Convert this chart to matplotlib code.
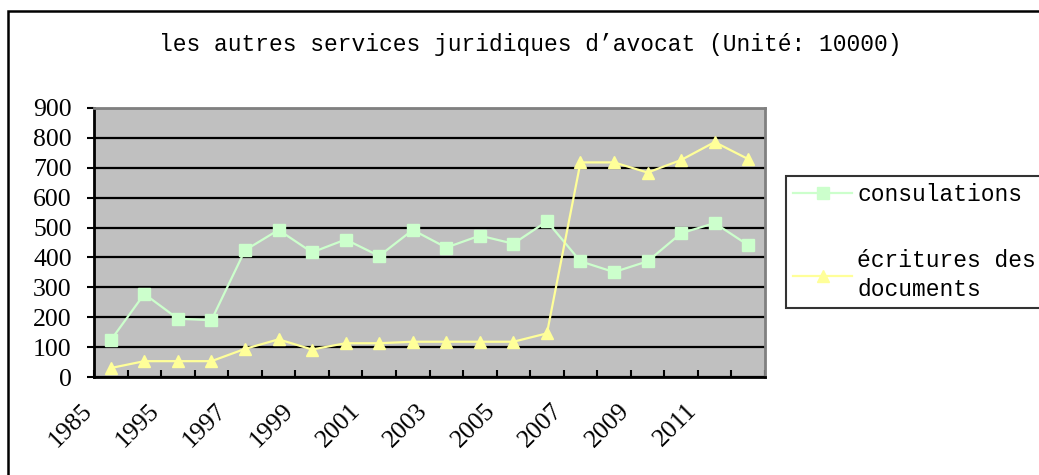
import matplotlib
matplotlib.use('Agg')
import matplotlib.pyplot as plt
import matplotlib.transforms as mtransforms
from matplotlib.patches import Rectangle

years = ['1985', '1990', '1995', '1996', '1997', '1998', '1999', '2000', '2001', '2002',
         '2003', '2004', '2005', '2006', '2007', '2008', '2009', '2010', '2011', '2012']
consultations = [123, 278, 195, 190, 424, 492, 417, 460, 405, 492,
                 433, 473, 446, 521, 387, 351, 387, 481, 515, 441]
ecritures = [30, 53, 53, 53, 94, 126, 92, 113, 113, 118,
             118, 118, 118, 146, 718, 718, 684, 726, 786, 729]

title = "les autres services juridiques d\u2019avocat (Unit\u00e9: 10000)"
mono = ['Liberation Mono', 'DejaVu Sans Mono']
serif = ['Liberation Serif', 'DejaVu Serif']

W, H = 1039, 475
fig = plt.figure(figsize=(W / 100, H / 100), dpi=100)

# outer chart border (right/bottom edges cut off like the reference)
fig.patches.append(Rectangle((8 / W, -0.05), 1.2, 1 - 11 / H + 0.05, transform=fig.transFigure,
                             fill=False, edgecolor='black', linewidth=1.8))

ax = fig.add_axes([94 / W, 1 - 377 / H, (765 - 94) / W, (377 - 108) / H])
ax.set_facecolor('#C0C0C0')

x = list(range(len(years)))
ax.plot(x, consultations, color='#CCFFCC', linewidth=1.6, marker='s', markersize=8,
        markeredgecolor='#CCFFCC', label='consulations', zorder=3)
ax.plot(x, ecritures, color='#FFFF99', linewidth=1.6, marker='^', markersize=9,
        markeredgecolor='#FFFF99', label='\u00e9critures des\ndocuments', zorder=3)

ax.set_xlim(-0.5, len(years) - 0.5)
ax.set_ylim(0, 900)
ax.set_yticks(range(0, 901, 100))
ax.yaxis.grid(True, color='black', linewidth=1.6)
ax.set_axisbelow(True)
ax.tick_params(axis='y', direction='out', length=5, width=1.5, pad=11, labelsize=18.5)
for lab in ax.get_yticklabels():
    lab.set_family(serif)

# category boundary ticks (major), labels on every other category (minor)
ax.set_xticks([i - 0.5 for i in range(len(years) + 1)])
ax.set_xticklabels([])
ax.tick_params(axis='x', which='major', direction='in', length=5, width=1.5)
ax.set_xticks(x[::2], minor=True)
ax.set_xticklabels(years[::2], minor=True, rotation=45, ha='right', va='top',
                   fontsize=18.5, family=serif)
ax.tick_params(axis='x', which='minor', length=0, pad=16)
offset = mtransforms.ScaledTranslation(-14 / 100, 0, fig.dpi_scale_trans)
for lab in ax.get_xticklabels(minor=True):
    lab.set_transform(lab.get_transform() + offset)

for side in ['left', 'bottom']:
    ax.spines[side].set_color('black')
    ax.spines[side].set_linewidth(2)
for side in ['top', 'right']:
    ax.spines[side].set_color('#808080')
    ax.spines[side].set_linewidth(2)

fig.text(530 / W, 1 - 45 / H, title, ha='center', va='center', fontsize=16.5, family=mono)

leg = fig.legend(loc='upper left', bbox_to_anchor=(786 / W, 1 - 176 / H),
                 prop={'family': mono, 'size': 16.5}, frameon=True, fancybox=False,
                 borderpad=0.3, labelspacing=1.9, handlelength=2.6, handletextpad=0.2,
                 borderaxespad=0)
for t in leg.get_texts():
    t.set_linespacing(1.3)
leg.get_frame().set_edgecolor('black')
leg.get_frame().set_linewidth(1.5)

fig.savefig('out.png', dpi=100)
